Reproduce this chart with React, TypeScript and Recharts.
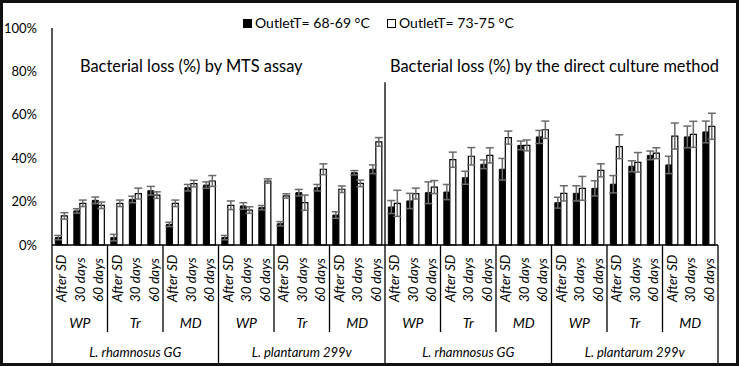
import React from "react";
import { BarChart, Bar, XAxis, YAxis, ErrorBar } from "recharts";

const FONT = "Lato, 'Open Sans', sans-serif";

const methods = ["MTS assay", "Direct culture method"];
const strains = ["L. rhamnosus GG", "L. plantarum 299v"];
const matrices = ["WP", "Tr", "MD"];
const times = ["After SD", "30 days", "60 days"];

const seriesNames = ["OutletT= 68-69 °C", "OutletT= 73-75 °C"];
const titles = ["Bacterial loss (%) by MTS assay", "Bacterial loss (%) by the direct culture method"];
const yTicks = [0, 20, 40, 60, 80, 100];

// Bacterial loss (%) — outlet 68-69 °C
const low68 = [
  3.4, 15.7, 20.6, 3.4, 21.0, 25.0, 9.5, 26.4, 27.6,
  3.4, 18.0, 17.2, 9.8, 24.1, 26.4, 13.8, 33.3, 34.9,
  17.5, 20.3, 24.1, 24.4, 31.0, 37.2, 34.9, 45.9, 49.8,
  19.5, 23.8, 26.1, 28.0, 36.3, 41.3, 36.9, 49.8, 52.1,
];
const low68Err = [
  1, 1, 1.5, 1.5, 1.5, 2, 1, 1.5, 1.5,
  1, 1.5, 1, 1, 1.5, 1.5, 1.5, 1, 2,
  3, 3.5, 5, 3.5, 3, 2, 5, 2, 3,
  2.5, 3.5, 3.5, 4, 2.5, 2, 4, 5, 5,
];
// Bacterial loss (%) — outlet 73-75 °C
const high73 = [
  13.4, 19.2, 18.3, 19.2, 23.7, 23.0, 19.2, 28.3, 29.5,
  18.3, 16.1, 29.5, 22.6, 19.5, 34.9, 25.7, 28.4, 47.5,
  19.2, 23.7, 26.7, 39.3, 40.9, 41.3, 49.5, 45.9, 53.1,
  23.8, 26.1, 34.4, 45.3, 38.1, 42.3, 50.2, 51.0, 54.7,
];
const high73Err = [
  1.5, 1.5, 1.5, 1.5, 2.5, 1.5, 1.5, 1.5, 2.5,
  2, 1.5, 1, 1, 3.5, 2.5, 1.5, 1.5, 2,
  6, 2.5, 3, 3.5, 4, 3.5, 3, 2.5, 4,
  3.5, 5.5, 3, 5.5, 4.5, 2.5, 6, 6, 6,
];

const data: any[] = [];
methods.forEach((m, mi) =>
  strains.forEach((s, si) =>
    matrices.forEach((mx, xi) =>
      times.forEach((t, ti) => {
        const i = data.length;
        data.push({
          key: `${mi}-${si}-${xi}-${ti}`,
          method: m,
          strain: s,
          matrix: mx,
          time: t,
          low: low68[i],
          lowErr: low68Err[i],
          high: high73[i],
          highErr: high73Err[i],
        });
      })
    )
  )
);

const W = 739;
const H = 366;
const M = { top: 28, right: 21, bottom: 0, left: 0 };
const Y_W = 52;
const X_H = 121;
const PLOT_W = W - M.left - M.right - Y_W;
const PLOT_H = H - M.top - M.bottom - X_H;
const DIVIDER_VALUE = 75;

function CatTick(props: any) {
  const { x, y, payload } = props;
  const i: number = payload?.index ?? props.index;
  const d = data[i];
  if (!d) return null;
  const half = payload && payload.offset > 0 ? payload.offset : PLOT_W / data.length / 2;
  const xl = x - half;
  const els: any[] = [];
  if (i % 3 === 0) {
    const long = i % 9 === 0;
    els.push(<line key="sep" x1={xl} x2={xl} y1={y} y2={y + (long ? X_H : 87)} stroke="#000" strokeWidth={1.3} />);
  }
  if (i === data.length - 1) {
    els.push(<line key="end" x1={x + half} x2={x + half} y1={y} y2={y + X_H} stroke="#000" strokeWidth={1.3} />);
  }
  if (i % 18 === 0 && i > 0) {
    els.push(
      <line key="div" x1={xl} x2={xl} y1={y} y2={y - (PLOT_H * DIVIDER_VALUE) / 100} stroke="#000" strokeWidth={1.3} />
    );
  }
  const ty = y + 57;
  els.push(
    <text key="t" x={x} y={ty} transform={`rotate(-90 ${x} ${ty})`} textAnchor="start" dominantBaseline="central"
      fontStyle="italic" fontSize={13.5} fill="#000" fontFamily={FONT}>{d.time}</text>
  );
  if (i % 3 === 1) {
    els.push(
      <text key="g" x={x} y={y + 77} textAnchor="middle" dominantBaseline="central" fontStyle="italic"
        fontSize={14} fill="#000" fontFamily={FONT}>{d.matrix}</text>
    );
  }
  if (i % 9 === 4) {
    els.push(
      <text key="s" x={x} y={y + 107} textAnchor="middle" dominantBaseline="central" fontStyle="italic"
        fontSize={13} fill="#000" fontFamily={FONT}>{d.strain}</text>
    );
  }
  return <g>{els}</g>;
}

const legendItem = (left: number, name: string, filled: boolean) => (
  <div style={{ position: "absolute", top: 14, left, display: "flex", alignItems: "center", fontSize: 14, color: "#000", whiteSpace: "nowrap", lineHeight: "18px" }}>
    <span style={{ display: "inline-block", width: 9, height: 9, background: filled ? "#000" : "#fff", border: filled ? "none" : "1.5px solid #000", boxSizing: "border-box" }} />
    <span style={{ marginLeft: 3 }}>{name}</span>
  </div>
);

export default function App() {
  return (
    <div style={{ position: "absolute", left: 0, top: 0, width: W, height: H, background: "#fff", fontFamily: FONT }}>
      <BarChart width={W} height={H} data={data} margin={M} barCategoryGap="18%" barGap={0}>
        <YAxis
          width={Y_W}
          domain={[0, 100]}
          ticks={yTicks}
          tickFormatter={(v: number) => `${v}%`}
          axisLine={{ stroke: "#000", strokeWidth: 1.3 }}
          tickLine={false}
          tickSize={0}
          tickMargin={15}
          tick={{ fontSize: 13, fill: "#000", fontFamily: FONT }}
        />
        <XAxis
          dataKey="key"
          height={X_H}
          interval={0}
          tickLine={false}
          tickSize={0}
          tickMargin={0}
          axisLine={{ stroke: "#000", strokeWidth: 1.3 }}
          tick={<CatTick />}
        />
        <Bar dataKey="low" name={seriesNames[0]} fill="#000" stroke="#000" strokeWidth={1} isAnimationActive={false}>
          <ErrorBar dataKey="lowErr" width={4} stroke="#6a6a6a" strokeWidth={1.5} />
        </Bar>
        <Bar dataKey="high" name={seriesNames[1]} fill="#fff" stroke="#000" strokeWidth={1.2} isAnimationActive={false}>
          <ErrorBar dataKey="highErr" width={4} stroke="#6a6a6a" strokeWidth={1.5} />
        </Bar>
      </BarChart>

      {legendItem(243, seriesNames[0], true)}
      {legendItem(387, seriesNames[1], false)}

      <div style={{ position: "absolute", top: 55, left: 80, fontSize: 16.4, color: "#000", whiteSpace: "nowrap", lineHeight: "22px" }}>{titles[0]}</div>
      <div style={{ position: "absolute", top: 55, left: 390, fontSize: 16.4, color: "#000", whiteSpace: "nowrap", lineHeight: "22px" }}>{titles[1]}</div>

      <div style={{ position: "absolute", left: 0, top: 0, width: W, height: H, border: "3px solid #111", boxSizing: "border-box", pointerEvents: "none" }} />
    </div>
  );
}
